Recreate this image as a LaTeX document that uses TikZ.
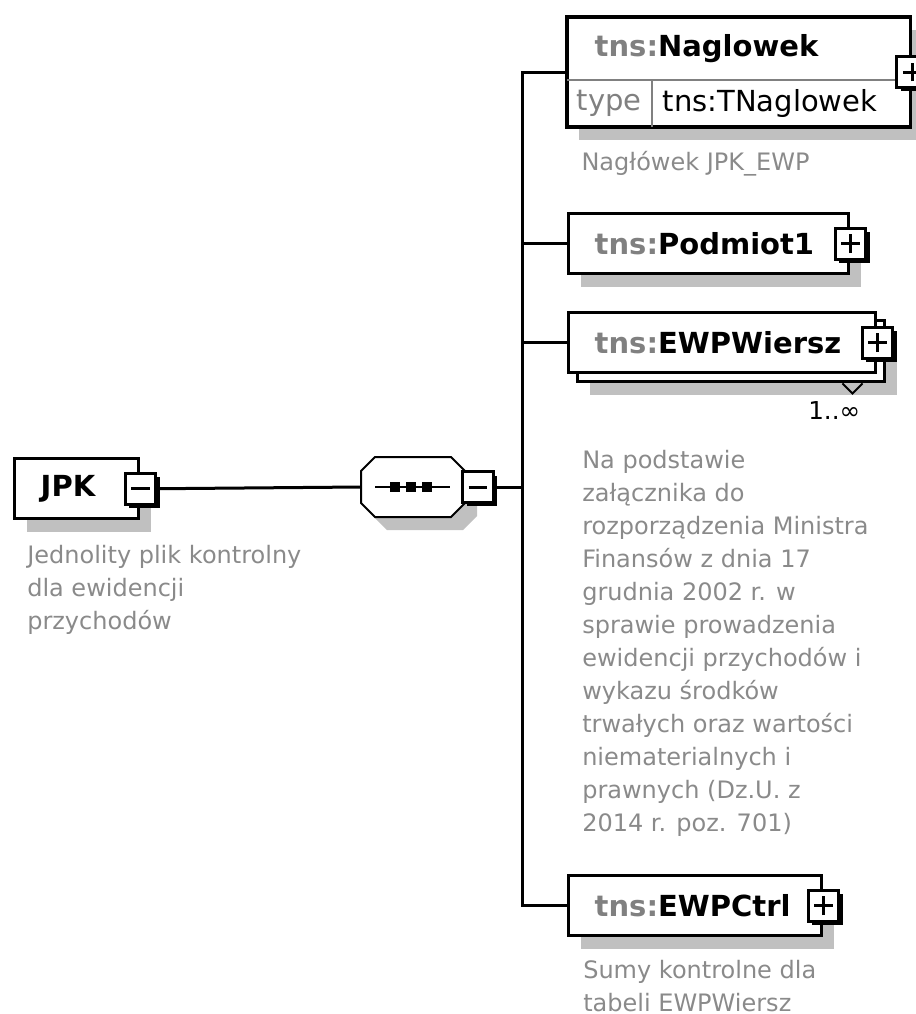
\documentclass[tikz,border=0pt]{standalone}
\usepackage{fontspec}
\setmainfont{DejaVu Sans}
\usetikzlibrary{positioning,fit,backgrounds,shadows}
\definecolor{shadowgray}{HTML}{C0C0C0}
\definecolor{descgray}{HTML}{8A8A8A}
\definecolor{pfxgray}{HTML}{808080}
\newcommand{\pfx}[1]{\textcolor{pfxgray}{#1}}
\tikzstyle{elem} = [align=left,draw=black,fill=white,line width=2.6pt,rectangle,minimum height=45pt,inner xsep=19.5pt,inner ysep=0pt,font=\fontsize{21.75pt}{26pt}\selectfont\bfseries]
\tikzstyle{shadowed} = [drop shadow={shadow xshift=9pt,shadow yshift=-9.75pt,fill=shadowgray,opacity=1}]
\tikzstyle{cell} = [align=left,rectangle,minimum height=34.5pt,inner ysep=0pt,font=\fontsize{21.75pt}{26pt}\selectfont]
\tikzstyle{toggle} = [draw=black,fill=white,line width=2.25pt,rectangle,minimum size=23pt,inner sep=0pt,drop shadow={shadow xshift=3pt,shadow yshift=-3pt,fill=black,opacity=1}]
\tikzstyle{minusbox} = [toggle,path picture={\draw[line width=2.25pt] ([xshift=-7pt]path picture bounding box.center) -- ([xshift=7pt]path picture bounding box.center);}]
\tikzstyle{plusbox} = [toggle,path picture={\draw[line width=2.25pt] ([xshift=-7pt]path picture bounding box.center) -- ([xshift=7pt]path picture bounding box.center) ([yshift=-7pt]path picture bounding box.center) -- ([yshift=7pt]path picture bounding box.center);}]
\tikzstyle{desc} = [align=left,inner sep=0pt,text=descgray,font=\fontsize{18pt}{24.75pt}\selectfont]
\tikzstyle{link} = [line width=2.25pt]

\begin{document}
\begin{tikzpicture}[x=0.75pt,y=-0.75pt]
\useasboundingbox (0,0) rectangle (915,1014);
% root element
\node (jpk) [elem,shadowed,text width=54pt,anchor=north west] at (13,457) {JPK};
\node (jpktog) [minusbox] at (jpk.east) {};
\node (jpkdesc) [desc,below=18.75pt of jpk.south west,anchor=north west,xshift=10.5pt] {Jednolity plik kontrolny\\dla ewidencji\\przychodów};
% sequence
\node (seq) [rectangle,minimum width=78pt,minimum height=45pt,inner sep=0pt,outer sep=0pt] at (413,487) {};
\filldraw[draw=black,fill=white,line width=1.5pt,shadowed,shift={(seq.center)}]
  (-52,-16) -- (-38,-30) -- (38,-30) -- (52,-16) -- (52,16) -- (38,30) -- (-38,30) -- (-52,16) -- cycle;
\node (seqtog) [minusbox] at (478,487) {};
\draw[line width=1.5pt] ([xshift=-28.5pt]seq.center) -- ([xshift=27.75pt]seq.center);
\foreach \d in {-18,-2,14}
  \fill[shift={(seq.center)}] (\d-5,-5) rectangle (\d+5,5);
\coordinate (bus) at (522,487);
% Naglowek
\node (nag) [elem,draw=none,fill=none,text width=216pt,anchor=north west] at (567,17) {\pfx{tns:}Naglowek};
\node (nagtype) [cell,text=pfxgray,minimum width=63pt,anchor=north west] at (nag.south west) {type};
\node (nagval) [cell,text width=175.5pt,inner xsep=8.25pt,anchor=north west] at (nagtype.north east) {tns:TNaglowek};
\begin{scope}[on background layer]
  \node (nagbox) [elem,shadowed,fit=(nag)(nagtype)(nagval),inner sep=0pt] {};
  \draw[line width=1.5pt,pfxgray] (nagtype.north west) -- (nagval.north east);
  \draw[line width=1.5pt,pfxgray] (nagtype.north east) -- (nagtype.south east);
\end{scope}
\node (nagtog) [plusbox] at (nagbox.east) {};
\node (nagdesc) [desc,below=16.5pt of nagbox.south west,anchor=north west,xshift=12pt] {Nagłówek JPK\_EWP};
% Podmiot1
\node (pod) [elem,shadowed,text width=171pt,anchor=north west] at (567,212) {\pfx{tns:}Podmiot1};
\node (podtog) [plusbox] at (pod.east) {};
% EWPWiersz
\node (wierszbk) [elem,shadowed,minimum width=230.25pt,minimum height=45.75pt,anchor=north west] at (576,319) {};
\node (wiersz) [elem,text width=191.25pt,anchor=north west] at (567,311) {\pfx{tns:}EWPWiersz};
\node (wiersztog) [plusbox] at (wiersz.east) {};
\draw[line width=1.5pt] (wierszbk.south east) ++(-44,0) -- ++(10,10) -- ++(10,-10);
\node (wiersznum) [anchor=north east,inner sep=0pt,font=\fontsize{18.5pt}{22pt}\selectfont] at ([xshift=-19.5pt,yshift=-13.5pt]wierszbk.south east) {1..∞};
\node (wierszdesc) [desc,below=50pt of wierszbk.south west,anchor=north west,xshift=4.5pt] {Na podstawie\\załącznika do\\rozporządzenia Ministra\\Finansów z dnia 17\\grudnia 2002 r. w\\sprawie prowadzenia\\ewidencji przychodów i\\wykazu środków\\trwałych oraz wartości\\niematerialnych i\\prawnych (Dz.U. z\\2014 r. poz. 701)};
% EWPCtrl
\node (ctrl) [elem,shadowed,text width=150.75pt,anchor=north west] at (567,874) {\pfx{tns:}EWPCtrl};
\node (ctrltog) [plusbox] at (ctrl.east) {};
\node (ctrldesc) [desc,below=17.25pt of ctrl.south west,anchor=north west,xshift=12pt] {Sumy kontrolne dla\\tabeli EWPWiersz};
% connectors
\draw[link] (jpktog.east) -- (seq.west);
\draw[link] (seqtog.east) -- (bus);
\draw[link] (bus) |- (nagbox.west);
\draw[link] (bus) |- (pod.west);
\draw[link] (bus) |- (wiersz.west);
\draw[link] (bus) |- (ctrl.west);
\end{tikzpicture}
\end{document}
